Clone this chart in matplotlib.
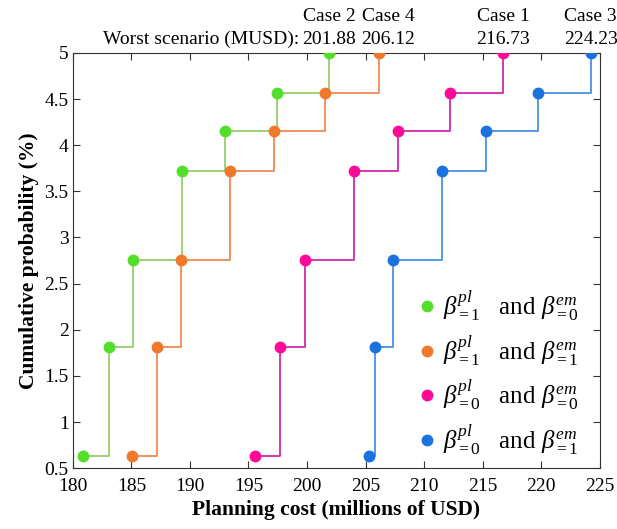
import numpy as np
import matplotlib
matplotlib.use("Agg")
import matplotlib.pyplot as plt
import matplotlib.transforms as mtrans

plt.rcParams['font.family'] = ['Liberation Serif', 'DejaVu Serif']
plt.rcParams['mathtext.fontset'] = 'custom'
plt.rcParams['mathtext.rm'] = 'Liberation Serif'
plt.rcParams['mathtext.it'] = 'Liberation Serif:italic'
plt.rcParams['mathtext.bf'] = 'Liberation Serif:bold'

# cumulative probability levels (%)
prob = [0.63, 1.81, 2.76, 3.72, 4.15, 4.57, 5.0]

# planning cost (MUSD) of each scenario, sorted
case2 = [180.87, 183.09, 185.14, 189.35, 193.00, 197.40, 201.88]
case4 = [185.03, 187.20, 189.27, 193.45, 197.17, 201.58, 206.12]
case1 = [195.56, 197.66, 199.82, 204.00, 207.73, 212.22, 216.73]
case3 = [205.27, 205.83, 207.36, 211.57, 215.27, 219.74, 224.23]

SERIES = [
	(case2, "#52de2a", "#96cf6a", r'$\beta^{pl}_{=\mathit{1}}$   and $\beta^{em}_{=\mathit{0}}$', "Case 2"),
	(case4, "#f0782a", "#ee8a55", r'$\beta^{pl}_{=\mathit{1}}$   and $\beta^{em}_{=\mathit{1}}$', "Case 4"),
	(case1, "#ff0a98", "#d02aa8", r'$\beta^{pl}_{=\mathit{0}}$   and $\beta^{em}_{=\mathit{0}}$', "Case 1"),
	(case3, "#1a72de", "#4a90e2", r'$\beta^{pl}_{=\mathit{0}}$   and $\beta^{em}_{=\mathit{1}}$', "Case 3"),
]

fig = plt.figure(figsize=(6.17,5.29),dpi=100,facecolor="white")
ax = fig.add_axes([0.118,0.115,0.854,0.785])

handles = []
for X,mcol,lcol,lab,case in SERIES:
	ax.plot(X,prob,drawstyle="steps-post",color=lcol,lw=1.3,zorder=2)
	h, = ax.plot(X,prob,ls="none",marker="o",ms=7.5,color=mcol,mec=mcol,zorder=3,label=lab)
	handles.append(h)

ax.set_xlim(180,225)
ax.set_ylim(0.5,5)
ax.set_xticks(np.arange(180,226,5))
ax.set_yticks(np.arange(0.5,5.01,0.5))
ax.set_yticklabels(["0.5","1","1.5","2","2.5","3","3.5","4","4.5","5"])
ax.tick_params(direction="in",top=True,right=True,labelsize=14,length=5,color="#333333")
ax.tick_params(axis="x",pad=7)
ax.tick_params(axis="y",pad=3)
for s in ax.spines.values():
	s.set_color("#333333")

ax.set_xlabel("Planning cost (millions of USD)",fontsize=15.5,fontweight="bold",labelpad=4)
ax.set_ylabel("Cumulative probability (%)",fontsize=15.5,fontweight="bold",labelpad=4)

# worst scenario annotations over the top axis
tr = mtrans.blended_transform_factory(ax.transData,ax.transAxes)
shift = {"Case 4":0.8}
for X,mcol,lcol,lab,case in SERIES:
	xx = X[-1] + shift.get(case,0)
	ax.text(xx,1.068,case,transform=tr,ha="center",va="bottom",fontsize=14)
	ax.text(xx,1.013,"%.2f" % X[-1],transform=tr,ha="center",va="bottom",fontsize=14)
ax.text(case2[-1]-2.5,1.013,"Worst scenario (MUSD):",transform=tr,ha="right",va="bottom",fontsize=14)

ax.legend(handles=handles,loc="lower left",bbox_to_anchor=(0.605,-0.027),frameon=False,
	fontsize=18,handletextpad=0.15,labelspacing=0.4,markerscale=1.0,handlelength=1.0)

fig.savefig("out.png",dpi=100)
